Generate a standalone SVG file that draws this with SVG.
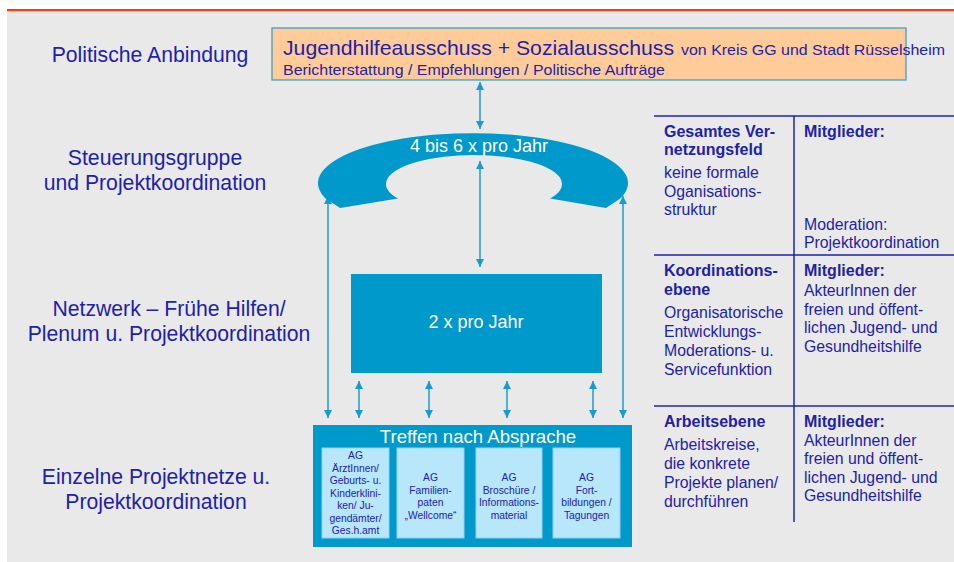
<svg xmlns="http://www.w3.org/2000/svg" width="954" height="562" viewBox="0 0 954 562">
  <style>
    text { font-family: "Liberation Sans", Arial, sans-serif; }
    .lbl { fill: #1E22AA; font-size: 21.2px; text-anchor: middle; }
    .tb { fill: #1E22AA; font-size: 16px; font-weight: bold; }
    .tn { fill: #1E22AA; font-size: 15.8px; }
    .wt { fill: #FFFFFF; text-anchor: middle; }
    .ag { fill: #1E22AA; font-size: 10.3px; text-anchor: middle; }
    .blue { fill: #0099CC; }
    .sub { fill: #B8E6FA; stroke: #8FD3F0; stroke-width: 1; }
    .con { stroke: #1A9BD0; stroke-width: 1.5; fill: none; marker-start: url(#ah); marker-end: url(#ah); }
    .rule { stroke: #1E22AA; stroke-width: 1.5; }
  </style>
  <defs>
    <marker id="ah" viewBox="0 0 10 10" refX="10" refY="5" markerWidth="8" markerHeight="8" markerUnits="userSpaceOnUse" orient="auto-start-reverse">
      <path d="M0,0 L10,5 L0,10 z" fill="#1A9BD0"/>
    </marker>
  </defs>

  <!-- page background and top rule -->
  <rect x="0" y="0" width="954" height="562" fill="#FFFFFF"/>
  <rect x="7" y="10" width="947" height="552" fill="#E9E9E9"/>
  <rect x="7" y="9" width="947" height="2.2" fill="#FF3A12"/>

  <!-- level labels -->
  <g id="labels">
    <text class="lbl" x="150" y="62">Politische Anbindung</text>
    <text class="lbl" x="155" y="165">Steuerungsgruppe</text>
    <text class="lbl" x="155" y="190">und Projektkoordination</text>
    <text class="lbl" x="169" y="316">Netzwerk – Frühe Hilfen/</text>
    <text class="lbl" x="169" y="341">Plenum u. Projektkoordination</text>
    <text class="lbl" x="156" y="484">Einzelne Projektnetze u.</text>
    <text class="lbl" x="156" y="509">Projektkoordination</text>
  </g>

  <!-- connectors -->
  <g id="connectors">
    <path class="con" d="M480,82 L480,129"/>
    <path class="con" d="M480,161 L480,267"/>
    <path class="con" d="M328,196 L328,418"/>
    <path class="con" d="M623,196 L623,418"/>
    <path class="con" d="M359,381 L359,418"/>
    <path class="con" d="M429,381 L429,418"/>
    <path class="con" d="M507,381 L507,418"/>
    <path class="con" d="M593,381 L593,418"/>
  </g>

  <!-- political committee -->
  <g id="politik">
    <rect x="272" y="28" width="634" height="52" fill="#FFCC99" stroke="#3399CC" stroke-width="1.2"/>
    <text x="283" y="55" fill="#1E22AA" font-size="21px" textLength="391" lengthAdjust="spacingAndGlyphs">Jugendhilfeausschuss + Sozialausschuss</text>
    <text x="681" y="55" fill="#1E22AA" font-size="15px" textLength="264" lengthAdjust="spacingAndGlyphs">von Kreis GG und Stadt Rüsselsheim</text>
    <text x="283" y="75" fill="#1E22AA" font-size="15px" textLength="382" lengthAdjust="spacingAndGlyphs">Berichterstattung / Empfehlungen / Politische Aufträge</text>
  </g>

  <!-- steering group ring -->
  <g id="steuerung">
    <path class="blue" d="M340,208 L398,198.6 A88,29 0 1 1 550,198.6 L606,208 L621,198 A155,50 0 1 0 325,198 Z"/>
    <text class="wt" x="479" y="152" font-size="18px">4 bis 6 x pro Jahr</text>
  </g>

  <!-- plenum -->
  <g id="plenum">
    <rect class="blue" x="351" y="274" width="251" height="99"/>
    <text class="wt" x="476" y="328" font-size="18px">2 x pro Jahr</text>
  </g>

  <!-- working groups -->
  <g id="projektnetze">
    <rect class="blue" x="313" y="425" width="319" height="122"/>
    <text class="wt" x="478" y="443" font-size="18.6px">Treffen nach Absprache</text>
  </g>
  <g id="ag1">
    <rect class="sub" x="322" y="448" width="67" height="90"/>
    <text class="ag" x="355.5" y="459">AG</text>
    <text class="ag" x="355.5" y="471.5">ÄrztInnen/</text>
    <text class="ag" x="355.5" y="484">Geburts- u.</text>
    <text class="ag" x="355.5" y="496.5">Kinderklini-</text>
    <text class="ag" x="355.5" y="509">ken/ Ju-</text>
    <text class="ag" x="355.5" y="521.5">gendämter/</text>
    <text class="ag" x="355.5" y="534">Ges.h.amt</text>
  </g>
  <g id="ag2">
    <rect class="sub" x="397" y="448" width="67" height="90"/>
    <text class="ag" x="430.5" y="481">AG</text>
    <text class="ag" x="430.5" y="493.5">Familien-</text>
    <text class="ag" x="430.5" y="506">paten</text>
    <text class="ag" x="430.5" y="518.5">„Wellcome“</text>
  </g>
  <g id="ag3">
    <rect class="sub" x="476" y="448" width="66" height="90"/>
    <text class="ag" x="509" y="481">AG</text>
    <text class="ag" x="509" y="493.5">Broschüre /</text>
    <text class="ag" x="509" y="506">Informations-</text>
    <text class="ag" x="509" y="518.5">material</text>
  </g>
  <g id="ag4">
    <rect class="sub" x="553" y="448" width="67" height="90"/>
    <text class="ag" x="586.5" y="481">AG</text>
    <text class="ag" x="586.5" y="493.5">Fort-</text>
    <text class="ag" x="586.5" y="506">bildungen /</text>
    <text class="ag" x="586.5" y="518.5">Tagungen</text>
  </g>

  <!-- legend table -->
  <g id="tabelle">
    <line class="rule" x1="654" y1="116" x2="954" y2="116"/>
    <line class="rule" x1="654" y1="255" x2="954" y2="255"/>
    <line class="rule" x1="654" y1="406" x2="954" y2="406"/>
    <line class="rule" x1="794" y1="116" x2="794" y2="522"/>

    <text class="tb" x="664" y="137">Gesamtes Ver-</text>
    <text class="tb" x="664" y="155">netzungsfeld</text>
    <text class="tn" x="664" y="178">keine formale</text>
    <text class="tn" x="664" y="197">Oganisations-</text>
    <text class="tn" x="664" y="215">struktur</text>
    <text class="tb" x="804" y="137">Mitglieder:</text>
    <text class="tn" x="804" y="230">Moderation:</text>
    <text class="tn" x="804" y="248">Projektkoordination</text>

    <text class="tb" x="664" y="276">Koordinations-</text>
    <text class="tb" x="664" y="295">ebene</text>
    <text class="tn" x="664" y="318">Organisatorische</text>
    <text class="tn" x="664" y="337">Entwicklungs-</text>
    <text class="tn" x="664" y="356">Moderations- u.</text>
    <text class="tn" x="664" y="375">Servicefunktion</text>
    <text class="tb" x="804" y="276">Mitglieder:</text>
    <text class="tn" x="804" y="296">AkteurInnen der</text>
    <text class="tn" x="804" y="315">freien und öffent-</text>
    <text class="tn" x="804" y="333">lichen Jugend- und</text>
    <text class="tn" x="804" y="352">Gesundheitshilfe</text>

    <text class="tb" x="664" y="427">Arbeitsebene</text>
    <text class="tn" x="664" y="450">Arbeitskreise,</text>
    <text class="tn" x="664" y="469">die konkrete</text>
    <text class="tn" x="664" y="488">Projekte planen/</text>
    <text class="tn" x="664" y="507">durchführen</text>
    <text class="tb" x="804" y="427">Mitglieder:</text>
    <text class="tn" x="804" y="446">AkteurInnen der</text>
    <text class="tn" x="804" y="464">freien und öffent-</text>
    <text class="tn" x="804" y="483">lichen Jugend- und</text>
    <text class="tn" x="804" y="501">Gesundheitshilfe</text>
  </g>
</svg>
